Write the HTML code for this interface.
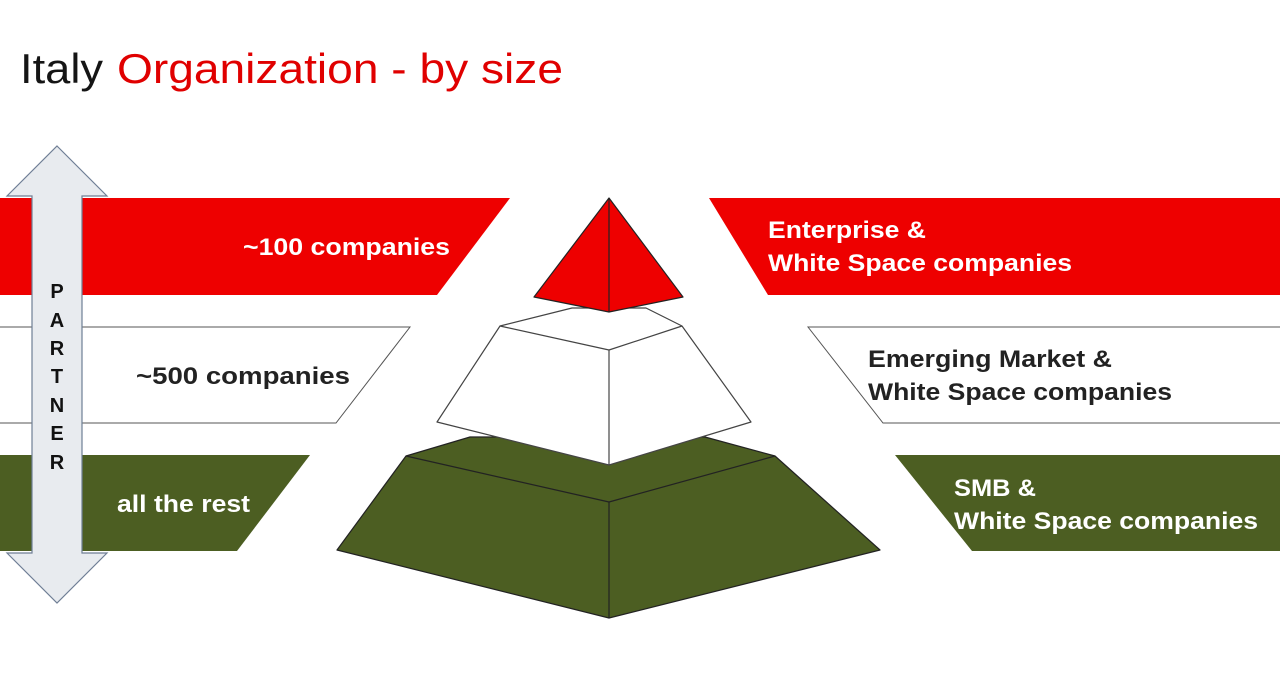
<!DOCTYPE html>
<html><head><meta charset="utf-8"><style>
html,body{margin:0;padding:0;background:#fff;width:1280px;height:677px;overflow:hidden}
svg{display:block}
text{font-family:"Liberation Sans",sans-serif}
</style></head><body>
<svg width="1280" height="677" viewBox="0 0 1280 677" xmlns="http://www.w3.org/2000/svg">
<text x="20" y="83" font-size="42" fill="#151515" textLength="83" lengthAdjust="spacingAndGlyphs">Italy</text>
<text x="117" y="83" font-size="42" fill="#e00000" textLength="446" lengthAdjust="spacingAndGlyphs">Organization - by size</text>
<!-- left bands -->
<polygon points="0,198 510,198 437,295 0,295" fill="#ee0000"/>
<polygon points="-2,327 410,327 336,423 -2,423" fill="#fff" stroke="#555" stroke-width="1"/>
<polygon points="0,455 310,455 237,551 0,551" fill="#4c5e22"/>
<!-- right bands -->
<polygon points="709,198 1280,198 1280,295 768,295" fill="#ee0000"/>
<polygon points="808,327 1282,327 1282,423 883,423" fill="#fff" stroke="#555" stroke-width="1"/>
<polygon points="895,455 1280,455 1280,551 972,551" fill="#4c5e22"/>
<!-- arrow -->
<polygon points="57,146 107,196 82,196 82,553 107,553 57,603 7,553 32,553 32,196 7,196" fill="#e8ebef" stroke="#6f7e95" stroke-width="1.2"/>
<g font-size="20" font-weight="bold" fill="#111" text-anchor="middle">
<text x="57" y="298">P</text><text x="57" y="327">A</text><text x="57" y="355">R</text><text x="57" y="383">T</text><text x="57" y="412">N</text><text x="57" y="440">E</text><text x="57" y="469">R</text>
</g>
<!-- labels -->
<g font-size="24" font-weight="bold" lengthAdjust="spacingAndGlyphs">
<text x="243" y="255" fill="#fff" textLength="207" lengthAdjust="spacingAndGlyphs">~100 companies</text>
<text x="136" y="384" fill="#222" textLength="214" lengthAdjust="spacingAndGlyphs">~500 companies</text>
<text x="117" y="512" fill="#fff" textLength="133" lengthAdjust="spacingAndGlyphs">all the rest</text>
<text x="768" y="238" fill="#fff" textLength="158" lengthAdjust="spacingAndGlyphs">Enterprise &amp;</text>
<text x="768" y="271" fill="#fff" textLength="304" lengthAdjust="spacingAndGlyphs">White Space companies</text>
<text x="868" y="367" fill="#222" textLength="244" lengthAdjust="spacingAndGlyphs">Emerging Market &amp;</text>
<text x="868" y="400" fill="#222" textLength="304" lengthAdjust="spacingAndGlyphs">White Space companies</text>
<text x="954" y="496" fill="#fff" textLength="82" lengthAdjust="spacingAndGlyphs">SMB &amp;</text>
<text x="954" y="529" fill="#fff" textLength="304" lengthAdjust="spacingAndGlyphs">White Space companies</text>
</g>
<!-- pyramid green -->
<g stroke="#222" stroke-width="1.2" stroke-linejoin="round">
<polygon points="406,456 470,437 705,437 775,456 880,550 609,618 337,550" fill="#4c5e22"/>
<polyline points="406,456 609,502 775,456" fill="none"/>
<line x1="609" y1="502" x2="609" y2="618"/>
<polygon points="500,326 572,308 646,308 682,326 751,422 609,465 437,422" fill="#fff" stroke="#444"/>
<polyline points="500,326 609,350 682,326" fill="none" stroke="#444"/>
<line x1="609" y1="350" x2="609" y2="465" stroke="#444"/>
<polygon points="609,198 683,297 609,312 534,297" fill="#ee0000"/>
<line x1="609" y1="198" x2="609" y2="312"/>
</g>
</svg>
</body></html>
